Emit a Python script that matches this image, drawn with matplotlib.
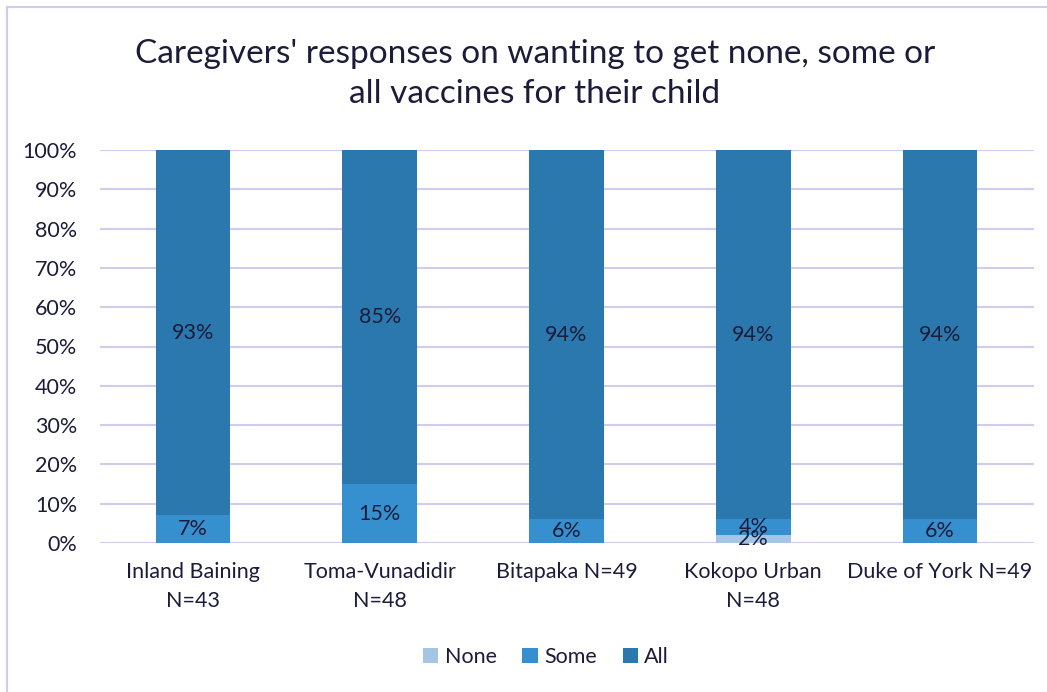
import matplotlib
matplotlib.use("Agg")
import matplotlib.pyplot as plt
import numpy as np
from matplotlib.lines import Line2D

categories = ["Inland Baining\nN=43", "Toma-Vunadidir\nN=48", "Bitapaka N=49", "Kokopo Urban\nN=48", "Duke of York N=49"]
none_vals = [0, 0, 0, 2, 0]
some_vals = [7, 15, 6, 4, 6]
all_vals = [93, 85, 94, 94, 94]
series_names = ["None", "Some", "All"]
colors = ["#a5c5e6", "#3690cf", "#2a78ad"]
title = "Caregivers' responses on wanting to get none, some or\nall vaccines for their child"

plt.rcParams['font.family'] = ['Lato', 'DejaVu Sans']
text_color = "#1c1c3a"
grid_color = "#d0ccf0"

fig = plt.figure(figsize=(10.47, 6.92), dpi=100)
ax = fig.add_axes([99.5/1047, 1-543/692, (1033.5-99.5)/1047, 393/692])

x = np.arange(len(categories))
bottom = np.zeros(len(categories))
for name, vals, c in zip(series_names, [none_vals, some_vals, all_vals], colors):
    vals = np.array(vals, dtype=float)
    ax.bar(x, vals, 0.4, bottom=bottom, color=c, label=name, zorder=3)
    for xi, v, b in zip(x, vals, bottom):
        if v > 0:
            ax.text(xi, b + v/2, f"{int(v)}%", ha='center', va='center', fontsize=15.5, color=text_color, zorder=4)
    bottom += vals

ax.set_xlim(-0.5, len(categories)-0.5)
ax.set_ylim(0, 100)
ax.set_yticks(np.arange(0, 101, 10))
ax.set_yticklabels([f"{v}%" for v in range(0, 101, 10)])
ax.set_xticks(x)
ax.set_xticklabels(categories)
ax.yaxis.grid(True, color=grid_color, linewidth=1.5, zorder=0)
ax.set_axisbelow(True)
for s in ax.spines.values():
    s.set_visible(False)
ax.tick_params(axis='both', length=0, labelsize=15.5, colors=text_color)
ax.tick_params(axis='y', pad=16)
ax.tick_params(axis='x', pad=14)
for lbl in ax.get_xticklabels():
    lbl.set_linespacing(1.55)

fig.text(535/1047, 1-74/692, title, ha='center', va='center', fontsize=24, color=text_color, linespacing=1.4)

handles, labels = ax.get_legend_handles_labels()
leg = fig.legend(handles, labels, loc='center', bbox_to_anchor=(546/1047, 1-657/692), ncol=3,
                 frameon=False, fontsize=15.5, handlelength=0.7, handleheight=0.7,
                 handletextpad=0.3, columnspacing=1.2)
for t in leg.get_texts():
    t.set_color(text_color)

# frame border lines (left and top)
fig.add_artist(Line2D([6.5/1047, 6.5/1047], [0, 1-6.5/692], transform=fig.transFigure, color=grid_color, linewidth=1.5))
fig.add_artist(Line2D([6.5/1047, 1], [1-6.5/692, 1-6.5/692], transform=fig.transFigure, color=grid_color, linewidth=1.5))

fig.savefig("out.png", dpi=100)
